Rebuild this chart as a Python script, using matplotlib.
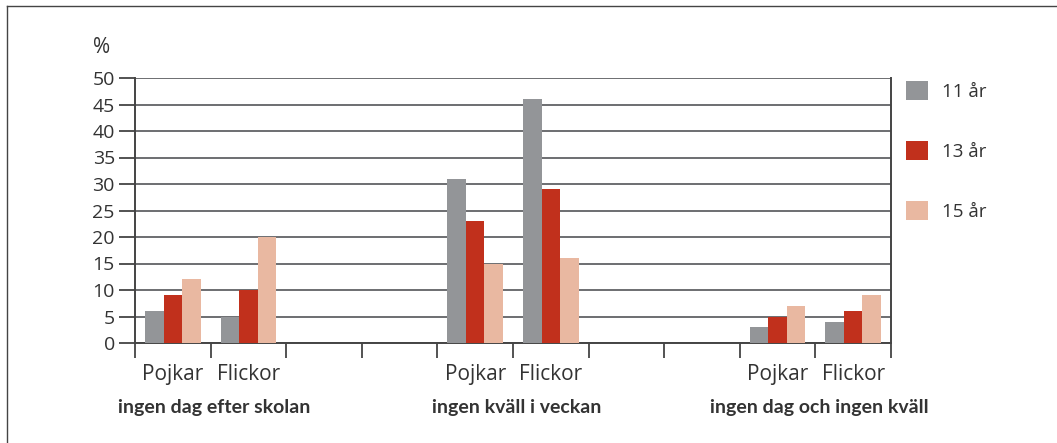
import matplotlib
matplotlib.use("Agg")
import matplotlib.pyplot as plt
from matplotlib.lines import Line2D

# --- data ---
groups = ["ingen dag efter skolan", "ingen kväll i veckan", "ingen dag och ingen kväll"]
sexes = ["Pojkar", "Flickor"]
ages = ["11 år", "13 år", "15 år"]

# order: group1 P, F, group2 P, F, group3 P, F
v11 = [6, 5, 31, 46, 3, 4]
v13 = [9, 10, 23, 29, 5, 6]
v15 = [12, 20, 15, 16, 7, 9]

colors = ["#939598", "#c1301c", "#e9b8a1"]
slots = [0, 1, 4, 5, 8, 9]  # empty slots between the groups
n_slots = 10

plt.rcParams["font.family"] = ["Open Sans", "DejaVu Sans"]
txt = "#333333"

W, H = 1057, 443
fig = plt.figure(figsize=(W / 100, H / 100), dpi=100)
ax = fig.add_axes([135 / W, 1 - 343 / H, (891 - 135) / W, (343 - 78) / H])

bw = 0.245
handles = []
for i, (vals, col) in enumerate(zip([v11, v13, v15], colors)):
    xs = [s + 0.5 + (i - 1) * bw for s in slots]
    b = ax.bar(xs, vals, width=bw, color=col, zorder=3, linewidth=0)
    handles.append(b)

ax.set_xlim(0, n_slots)
ax.set_ylim(0, 50)
ax.set_yticks(range(0, 51, 5))
ax.tick_params(axis="y", length=11.5, width=1.3, color="#444444", pad=3,
               labelsize=14, labelcolor=txt)

# sex labels under the bars, slot boundaries as ticks
ax.set_xticks([s + 0.5 for s in slots])
ax.set_xticklabels(sexes * 3)
ax.tick_params(axis="x", which="major", length=0, pad=15, labelsize=15,
               labelcolor=txt)
ax.set_xticks(range(n_slots + 1), minor=True)
ax.tick_params(axis="x", which="minor", length=11, width=1.3, color="#444444")

ax.yaxis.grid(True, color="#6d6e71", linewidth=1.4)
ax.set_axisbelow(True)
for s in ["left", "right", "bottom"]:
    ax.spines[s].set_color("#444444")
    ax.spines[s].set_linewidth(1.4)
ax.spines["top"].set_visible(False)

# group titles
trans = ax.get_xaxis_transform()
for g, name in enumerate(groups):
    cx = (slots[2 * g] + slots[2 * g + 1] + 1) / 2 + 0.05
    ax.text(cx, -65 / 265, name, transform=trans, ha="center", va="center",
            fontsize=14, fontweight="bold", color=txt, family=["Lato", "DejaVu Sans"])

ax.text(-0.033, 1.115, "%", transform=ax.transAxes, ha="right", va="center",
        fontsize=15, color=txt)

ax.legend(handles, ages, loc="upper left", bbox_to_anchor=(906 / W, 1 - 81 / H),
          bbox_transform=fig.transFigure, frameon=False, fontsize=13.5,
          handlelength=1.17, handleheight=1.17, handletextpad=0.75,
          labelspacing=2.15, borderpad=0, borderaxespad=0, labelcolor=txt)

# open frame round the figure (top and left only)
fig.add_artist(Line2D([7 / W, 1], [1 - 6 / H, 1 - 6 / H], transform=fig.transFigure,
                      color="#444444", linewidth=1))
fig.add_artist(Line2D([7 / W, 7 / W], [0, 1 - 6 / H], transform=fig.transFigure,
                      color="#444444", linewidth=1))

fig.savefig("out.png", dpi=100)
